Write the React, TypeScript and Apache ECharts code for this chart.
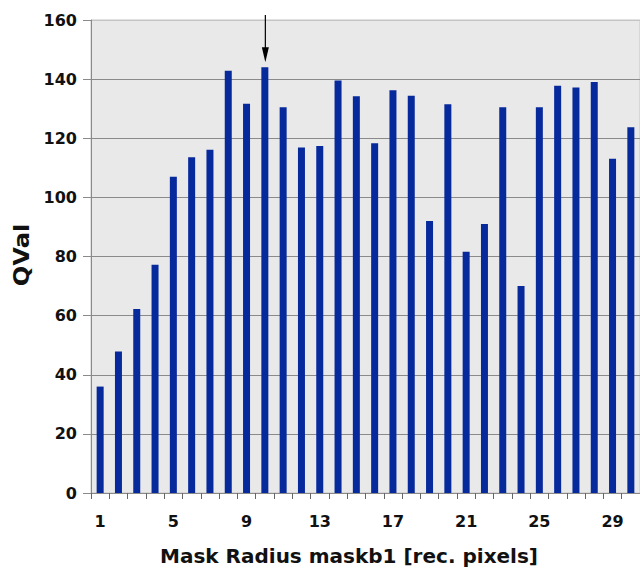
import React, { useEffect, useRef } from "react";
import * as echarts from "echarts";

const categories: string[] = Array.from({ length: 30 }, (_, i) => String(i + 1));
const qvalValues: number[] = [
  36.0, 47.9, 62.2, 77.2, 107.0, 113.6, 116.1, 142.8, 131.7, 144.0,
  130.5, 116.9, 117.4, 139.5, 134.2, 118.3, 136.2, 134.4, 92.0, 131.5,
  81.6, 91.0, 130.5, 70.0, 130.5, 137.8, 137.2, 139.0, 113.1, 123.7,
];
const yTicks = { min: 0, max: 160, interval: 20 };
const markedCategory = "10";
const xTitle = "Mask Radius maskb1 [rec. pixels]";
const yTitle = "QVal";

const FONT = "'DejaVu Sans', Verdana, sans-serif";

export default function App() {
  const ref = useRef<HTMLDivElement>(null);
  useEffect(() => {
    if (!ref.current) return;
    const chart = echarts.init(ref.current, null, { renderer: "svg" });
    const gridLineColors = Array.from({ length: 9 }, (_, i) => (i === 8 ? "#c4c4c4" : "#8a8a8a"));
    chart.setOption({
      animation: false,
      grid: {
        left: 91,
        top: 20,
        bottom: 78,
        right: -6,
        show: true,
        backgroundColor: "#e9e9e9",
        borderColor: "#c4c4c4",
        borderWidth: 1,
      },
      xAxis: {
        type: "category",
        data: categories,
        axisLine: { lineStyle: { color: "#8a8a8a", width: 1 } },
        axisTick: { show: true, interval: 0, length: 6, lineStyle: { color: "#666" } },
        axisLabel: {
          interval: 3,
          margin: 20,
          fontFamily: FONT,
          fontWeight: "bold",
          fontSize: 16,
          color: "#111",
        },
        splitLine: { show: false },
      },
      yAxis: {
        type: "value",
        min: yTicks.min,
        max: yTicks.max,
        interval: yTicks.interval,
        axisLine: { show: true, lineStyle: { color: "#8a8a8a", width: 1 } },
        axisTick: { show: true, length: 8, lineStyle: { color: "#8a8a8a" } },
        axisLabel: {
          margin: 14,
          fontFamily: FONT,
          fontWeight: "bold",
          fontSize: 16,
          color: "#111",
        },
        splitLine: { show: true, lineStyle: { color: gridLineColors, width: 1 } },
      },
      series: [
        {
          type: "bar",
          data: qvalValues,
          barWidth: 7,
          itemStyle: { color: "#06299c" },
        },
      ],
    });

    const idx = categories.indexOf(markedCategory);
    const tip = chart.convertToPixel({ gridIndex: 0 }, [markedCategory, qvalValues[idx]]) as number[];
    const top = chart.convertToPixel({ gridIndex: 0 }, [markedCategory, yTicks.max]) as number[];
    const ax = tip[0] + 0.5;
    const tipY = tip[1] - 5;
    const startY = top[1] - 5;
    chart.setOption({
      graphic: [
        {
          type: "line",
          shape: { x1: ax, y1: startY, x2: ax, y2: tipY - 12 },
          style: { stroke: "#000", lineWidth: 1.2 },
        },
        {
          type: "polygon",
          shape: { points: [[ax - 3.5, tipY - 15], [ax + 3.5, tipY - 15], [ax, tipY]] },
          style: { fill: "#000" },
        },
        {
          type: "text",
          x: 349,
          y: 556,
          style: {
            text: xTitle,
            fontFamily: FONT,
            fontWeight: "bold",
            fontSize: 20,
            fill: "#111",
            textAlign: "center",
            textVerticalAlign: "middle",
          },
        },
        {
          type: "text",
          x: 22,
          y: 255,
          rotation: Math.PI / 2,
          scaleX: 1.15,
          style: {
            text: yTitle,
            fontFamily: FONT,
            fontWeight: "bold",
            fontSize: 21,
            fill: "#111",
            textAlign: "center",
            textVerticalAlign: "middle",
          },
        },
      ],
    });
    return () => chart.dispose();
  }, []);
  return (
    <div
      ref={ref}
      style={{ position: "absolute", left: 0, top: 0, width: 640, height: 571, overflow: "hidden" }}
    />
  );
}
